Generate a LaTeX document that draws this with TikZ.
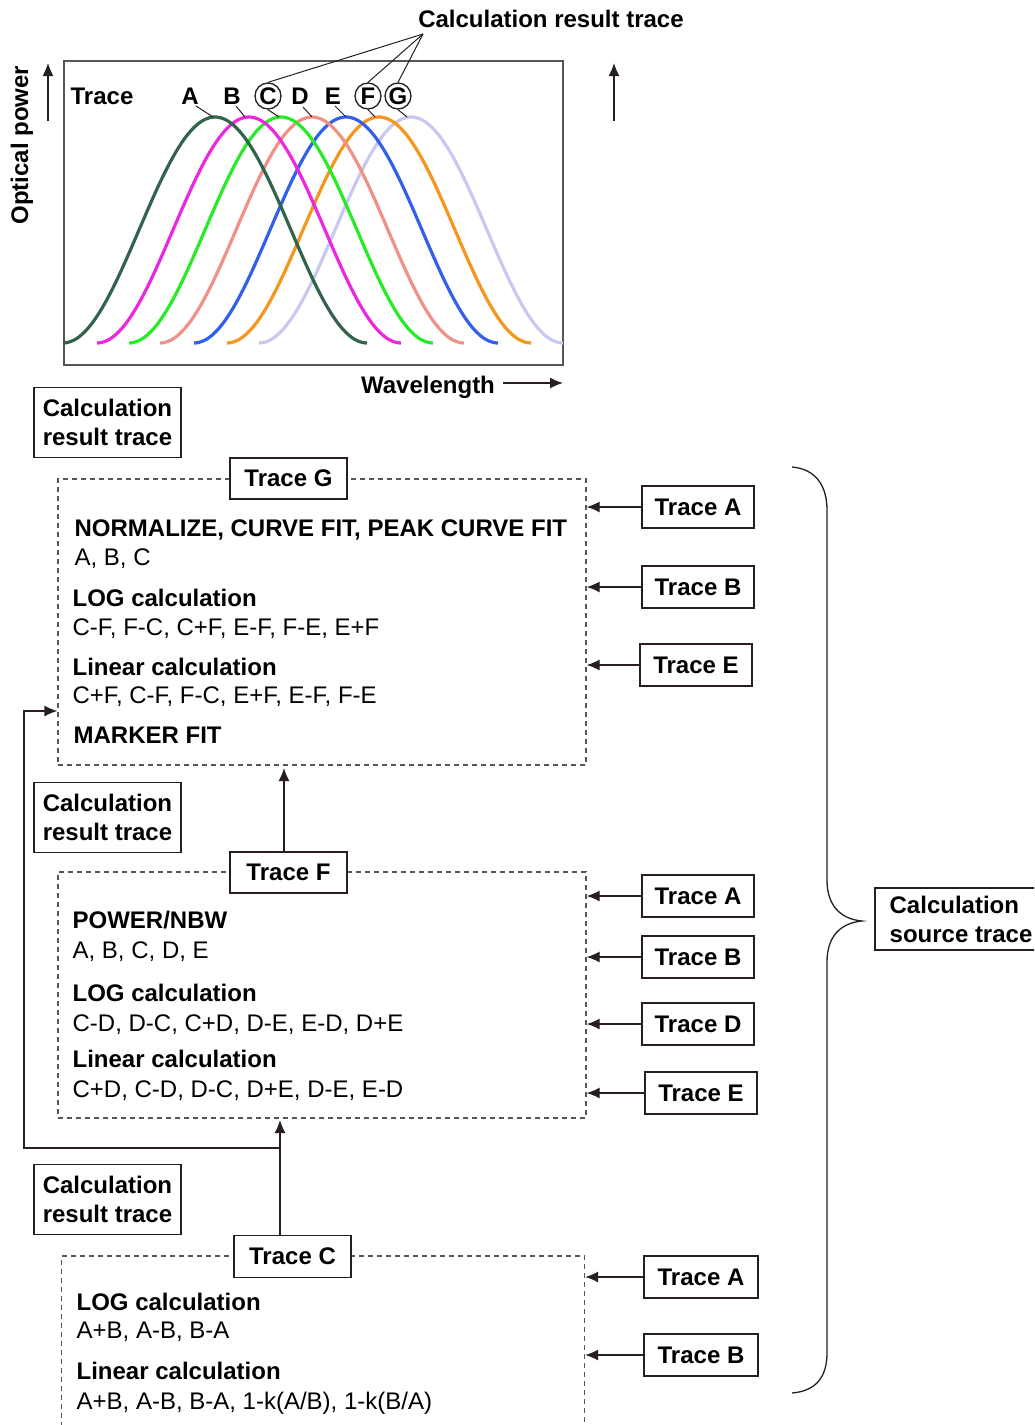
\documentclass[tikz,border=0pt]{standalone}
\usepackage{fontspec}
\setmainfont{Liberation Sans}
\usetikzlibrary{arrows.meta}

\definecolor{ink}{RGB}{40,30,30}
\definecolor{dgray}{RGB}{90,85,85}
\definecolor{trA}{RGB}{50,100,75}
\definecolor{trB}{RGB}{235,40,225}
\definecolor{trC}{RGB}{40,235,40}
\definecolor{trD}{RGB}{240,145,135}
\definecolor{trE}{RGB}{50,95,235}
\definecolor{trF}{RGB}{245,150,30}
\definecolor{trG}{RGB}{200,200,240}

\newcommand\txt{\fontsize{24}{29}\selectfont}

\begin{document}
\begin{tikzpicture}[x=1pt, y=-1pt, line width=1.3pt, draw=ink,
	every node/.style={font=\txt, inner sep=0pt},
	hd/.style={anchor=base west, font=\txt\bfseries},
	ln/.style={anchor=base west},
	tbox/.style={draw=ink, font=\txt\bfseries, minimum width=112, minimum height=42},
	rbox/.style={draw=ink, font=\txt\bfseries, align=left, minimum width=147, minimum height=70},
	dbox/.style={draw=dgray, dash pattern=on 5pt off 4pt},
	arr/.style={-{Latex[length=13pt,width=11pt]}},
	ring/.style={draw=ink, circle, minimum size=26}]
					\useasboundingbox (0,0) rectangle (1034,1425);
					\clip (0,0) rectangle (1034,1425);
					
					% spectrum plot
					\draw[dgray, line width=1.5pt] (64,61) rectangle (563,365);
					\foreach \p/\col in {411/trG, 379/trF, 346/trE, 312/trD, 281/trC, 249/trB, 215/trA}
					\draw[\col, line width=3.2pt] plot[domain=-152:152, samples=80, smooth] ({\p+\x}, {343-113*(1+cos(\x/152*180))});
					
					\node[font=\txt\bfseries, anchor=base] (title) at (551,27) {Calculation result trace};
					\node[font=\txt\bfseries, rotate=90] (ylab) at (22,145) {Optical power};
					\node[font=\txt\bfseries] (xlab) at (428,387) {Wavelength};
					\draw[arr] (48,121) -- (48,63);
					\draw[arr] (614,121) -- (614,63);
					\draw[arr] (503,383) -- (563,383);
					
					\node[hd] (trc) at (70,104) {Trace};
					\node[font=\txt\bfseries, anchor=base] (la) at (190,104) {A};
					\node[font=\txt\bfseries, anchor=base] (lb) at (232,104) {B};
					\node[font=\txt\bfseries, ring] (lc) at (268,96) {C};
					\node[font=\txt\bfseries, anchor=base] (ld) at (300,104) {D};
					\node[font=\txt\bfseries, anchor=base] (le) at (333,104) {E};
					\node[font=\txt\bfseries, ring] (lf) at (368,96) {F};
					\node[font=\txt\bfseries, ring] (lg) at (398,96) {G};
					
					\draw[line width=1pt] (196,106) -- (213,117);
					\draw[line width=1pt] (236,106) -- (245,117);
					\draw[line width=1pt] (lc.south) -- (279,117);
					\draw[line width=1pt] (303,107) -- (312,117);
					\draw[line width=1pt] (335,106) -- (346,117);
					\draw[line width=1pt] (lf.south) -- (375,117);
					\draw[line width=1pt] (lg.south) -- (407,117);
					
					\coordinate (tp) at (423,34);
					\draw[line width=1pt] (tp) -- (lc.north);
					\draw[line width=1pt] (tp) -- (lf.north);
					\draw[line width=1pt] (tp) -- (lg.north);
					
					% trace G
					\node[rbox] (r1) at (107.5,422.5) {Calculation\\result trace};
					\node[dbox, minimum width=528, minimum height=286] (gbox) at (322,622) {};
					\node[tbox, fill=white, minimum width=117, minimum height=41] (gtr) at (288.5,478.5) {Trace G};
					\node[hd] (g1) at (74,536) {NORMALIZE, CURVE FIT, PEAK CURVE FIT};
					\node[ln] (g2) at (74,565) {A, B, C};
					\node[hd] (g3) at (72,606) {LOG calculation};
					\node[ln] (g4) at (72,635) {C-F, F-C, C+F, E-F, F-E, E+F};
					\node[hd] (g5) at (72,675) {Linear calculation};
					\node[ln] (g6) at (72,703) {C+F, C-F, F-C, E+F, E-F, F-E};
					\node[hd] (g7) at (73,743) {MARKER FIT};
					
					\node[tbox] (ga) at (698,507) {Trace A};
					\node[tbox] (gb) at (698,587) {Trace B};
					\node[tbox] (ge) at (696,665) {Trace E};
					\foreach \s in {ga,gb,ge}
					\draw[arr] (\s.west) -- (\s.west -| gbox.east);
					
					% trace F
					\node[rbox] (r2) at (107.5,817.5) {Calculation\\result trace};
					\node[dbox, minimum width=528, minimum height=246] (fbox) at (322,995) {};
					\node[tbox, fill=white, minimum width=117, minimum height=41] (ftr) at (288.5,872.5) {Trace F};
					\node[hd] (f1) at (72,928) {POWER/NBW};
					\node[ln] (f2) at (72,958) {A, B, C, D, E};
					\node[hd] (f3) at (72,1001) {LOG calculation};
					\node[ln] (f4) at (72,1031) {C-D, D-C, C+D, D-E, E-D, D+E};
					\node[hd] (f5) at (72,1067) {Linear calculation};
					\node[ln] (f6) at (72,1097) {C+D, C-D, D-C, D+E, D-E, E-D};
					
					\node[tbox] (fa) at (698,896) {Trace A};
					\node[tbox] (fb) at (698,957) {Trace B};
					\node[tbox] (fd) at (698,1024) {Trace D};
					\node[tbox] (fe) at (701,1093) {Trace E};
					\foreach \s in {fa,fb,fd,fe}
					\draw[arr] (\s.west) -- (\s.west -| fbox.east);
					
					\draw[arr] (284,852) -- (284,768);
					
					% trace C
					\node[rbox] (r3) at (107.5,1199.5) {Calculation\\result trace};
					\node[dbox, minimum width=523, minimum height=300] (cbox) at (323,1406) {};
					\node[tbox, fill=white, minimum width=117, minimum height=42] (ctr) at (292.5,1256.5) {Trace C};
					\node[hd] (c1) at (76,1310) {LOG calculation};
					\node[ln] (c2) at (76,1338) {A+B, A-B, B-A};
					\node[hd] (c3) at (76,1379) {Linear calculation};
					\node[ln] (c4) at (76,1409) {A+B, A-B, B-A, 1-k(A/B), 1-k(B/A)};
					
					\node[tbox, minimum width=114] (ca) at (701,1277) {Trace A};
					\node[tbox, minimum width=114] (cb) at (701,1355) {Trace B};
					\foreach \s in {ca,cb}
					\draw[arr] (\s.west) -- (\s.west -| cbox.east);
					
					\coordinate (br) at (280,1148);
					\coordinate (lft) at (24,711);
					\draw[arr] (280,1235) -- (280,1120);
					\draw[arr] (br) -| (lft) -- (lft -| gbox.west);
					
					% brace
					\draw[line width=1.3pt] (792,467) .. controls (816,469) and (827,486) .. (827,510) -- (827,880)
					.. controls (827,905) and (840,919) .. (862,921) .. controls (840,923) and (827,937) .. (827,962)
					-- (827,1353) .. controls (827,1377) and (816,1391) .. (792,1393);
					\draw (875,888) rectangle (1045,950);
					\node[font=\txt\bfseries, align=left, anchor=west] (src) at (889,919) {Calculation\\source trace};
\end{tikzpicture}
\end{document}
